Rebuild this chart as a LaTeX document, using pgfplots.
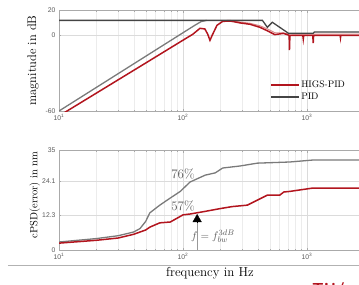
\documentclass[border=0pt]{standalone}
\usepackage{fontspec}
\usepackage{pgfplots}
\pgfplotsset{compat=1.18}
\usetikzlibrary{arrows.meta}
\newfontfamily\tickfont{Liberation Sans}
\definecolor{higs}{HTML}{B2151E}
\definecolor{higslight}{HTML}{D98A8A}
\definecolor{piddark}{HTML}{444444}
\definecolor{pidgray}{HTML}{7A7A7A}
\definecolor{axgray}{HTML}{AAAAAA}
\begin{document}
\begin{tikzpicture}
\begin{axis}[scale only axis, width=372pt, xmode=log, xmin=10, xmax=10000,
  axis line style={axgray, line width=0.5pt},
  grid=both, major grid style={gray!28, line width=0.4pt},
  minor grid style={gray!15, line width=0.3pt},
  tick style={axgray}, major tick length=2.5pt, minor tick length=1.5pt,
  xtick={10,100,1000},
  xticklabels={10\textsuperscript{1},10\textsuperscript{2},10\textsuperscript{3}},
  ticklabel style={font=\tickfont\fontsize{6.8}{7}\selectfont, text=black!65},
  height=101pt, ymin=-60, ymax=20,
  ytick={-60,0,20}, yticklabels={-60,0,20},
  ylabel={magnitude in dB},
  ylabel style={at={(axis description cs:-0.07,0.5)}, anchor=center, font=\fontsize{12.5}{14}\selectfont},
  legend style={at={(rel axis cs:0.56,0.34)}, anchor=north west, draw=none, fill=none,
    font=\fontsize{9.5}{11}\selectfont},
  legend cell align=left,
  legend image post style={xscale=1.6},
]
\addplot[pidgray, line width=1.3pt, forget plot] coordinates {(10,-60) (100,2) (125,8) (140,10.8) (155,11.8)};
\addplot[higslight, line width=1pt, forget plot] coordinates {(200,11.5) (240,11.8) (288,10.5) (347,9.5) (417,7.5) (480,5) (550,2) (646,1.8) (720,1) (10000,0.8)};
\addplot[higs, line width=1.5pt] coordinates {(10,-63.9) (50,-22) (100,-3.9) (120,0.8) (137,5.5) (150,5) (158,1) (165,-4) (172,0) (188,7.9) (209,11) (240,11.3) (288,9.8) (347,8.7) (417,6.3) (480,3.5) (550,0.5) (646,1.5) (700,0.3) (718,0) (722,-11.8) (728,0) (925,0) (933,-3) (941,0) (1114,0) (1122,-6.3) (1130,0) (1850,0) (1862,-2) (1874,0) (10000,0)};
\addlegendentry{HIGS-PID}
\addplot[piddark, line width=1.3pt] coordinates {(10,11.8) (437,11.8) (479,6.3) (525,10.3) (708,1.6) (1122,1.6) (1148,2.6) (10000,2.6)};
\addlegendentry{PID}
\end{axis}
\begin{axis}[scale only axis, width=372pt, xmode=log, xmin=10, xmax=10000,
  axis line style={axgray, line width=0.5pt},
  grid=both, major grid style={gray!28, line width=0.4pt},
  minor grid style={gray!15, line width=0.3pt},
  tick style={axgray}, major tick length=2.5pt, minor tick length=1.5pt,
  xtick={10,100,1000},
  xticklabels={10\textsuperscript{1},10\textsuperscript{2},10\textsuperscript{3}},
  ticklabel style={font=\tickfont\fontsize{6.8}{7}\selectfont, text=black!65},
  at={(0pt,-139pt)}, height=100pt, ymin=0, ymax=35,
  ytick={0,12.3,24.1,35}, yticklabels={0,12.3,24.1,35},
  ylabel={cPSD(error) in nm},
  ylabel style={at={(axis description cs:-0.065,0.55)}, anchor=center, font=\fontsize{10.5}{12}\selectfont},
  xlabel={frequency in Hz},
  xlabel style={at={(axis description cs:0.406,-0.23)}, anchor=center, font=\fontsize{13}{15}\selectfont},
]
\addplot[pidgray, line width=1.3pt] coordinates {(10,2.8) (20,4) (30,5) (40,6.3) (45,7.5) (50,10) (54,13) (65,15.7) (79,18.2) (95,20.5) (114,23.8) (151,26.2) (182,27) (209,28.7) (288,29.4) (398,30.4) (724,30.8) (1122,31.5) (10000,31.5)};
\addplot[higs, line width=1.5pt] coordinates {(10,2.4) (20,3.4) (30,4.2) (40,5.5) (50,7) (54,8) (65,9.5) (79,9.8) (100,12.3) (114,12.6) (150,13.5) (200,14.5) (250,15.2) (330,15.7) (400,17.5) (479,19.2) (603,19.2) (650,20.3) (724,20.5) (1122,21.7) (10000,21.7)};
\draw[gray!80, line width=0.4pt] (axis cs:130,0) -- (axis cs:130,10);
\draw[black, -{Triangle[width=9pt,length=8pt]}] (axis cs:130,9.8) -- (axis cs:130,12.6);
\node[text=black!65, font=\fontsize{13}{15}\selectfont] at (axis cs:100,26.6) {76\%};
\node[text=black!65, font=\fontsize{13}{15}\selectfont] at (axis cs:100,15.4) {57\%};
\node[text=black!65, font=\fontsize{11}{13}\selectfont] at (axis cs:174,4.9) {$f = f_{bw}^{3dB}$};
\end{axis}
\draw[gray!60, line width=0.5pt] (-51pt,-154pt) -- (300pt,-154pt);
\node[anchor=north west, inner sep=0pt, text=higs, font=\sffamily\bfseries\fontsize{16}{18}\selectfont] at (253pt,-171pt) {TU/e};
\pgfresetboundingbox
\path[use as bounding box] (-59pt,-173pt) rectangle (300pt,111pt);
\end{tikzpicture}
\end{document}
